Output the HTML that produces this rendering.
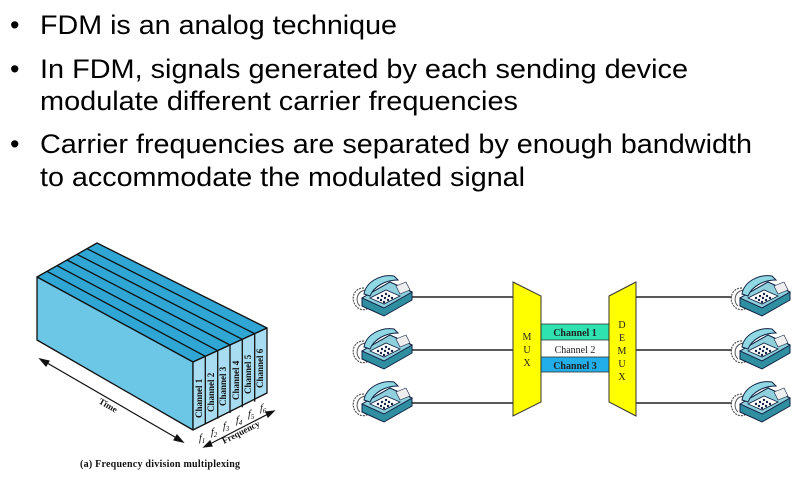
<!DOCTYPE html>
<html><head><meta charset="utf-8"><style>
html,body{margin:0;padding:0;background:#fff;width:801px;height:478px;overflow:hidden}
svg{position:absolute;left:0;top:0}
</style></head><body>
<svg width="801" height="478" viewBox="0 0 801 478" xmlns="http://www.w3.org/2000/svg">
<defs>
<g id="ph">
 <path d="M14 18 C2 18 0 32 8 38 C14 42 20 38 22 34" fill="none" stroke="#555" stroke-width="1.2" stroke-dasharray="2,1"/>
 <path d="M16 20 C6 21 5 32 10 36" fill="none" stroke="#555" stroke-width="1"/>
 <polygon points="12,28 40,12 62,22 62,30 34,46 12,36" fill="#2f8fa0" stroke="#124" stroke-width="1"/>
 <polygon points="12,28 40,12 62,22 34,38" fill="#8fd0dc" stroke="#124" stroke-width="1"/>
 <polygon points="20,28 36,20 50,26 34,34" fill="#fff" stroke="#124" stroke-width="0.8"/>
 <g fill="#124"><circle cx="28" cy="28" r="1.2"/><circle cx="32" cy="26" r="1.2"/><circle cx="36" cy="24" r="1.2"/><circle cx="31" cy="30" r="1.2"/><circle cx="35" cy="28" r="1.2"/><circle cx="39" cy="26" r="1.2"/><circle cx="34" cy="32" r="1.2"/><circle cx="38" cy="30" r="1.2"/><circle cx="42" cy="28" r="1.2"/></g>
 <path d="M14 24 C16 12 30 4 44 6 L48 10 C36 10 24 16 20 26 Z" fill="#8fd8e4" stroke="#124" stroke-width="1"/>
 <polygon points="46,16 56,12 60,20 50,24" fill="#eee" stroke="#124" stroke-width="0.6"/>
</g>
</defs>
<g font-family="Liberation Sans, sans-serif" font-size="27" fill="#000">
<text x="10" y="34">•</text><text x="40" y="34" textLength="357" lengthAdjust="spacingAndGlyphs">FDM is an analog technique</text>
<text x="10" y="78">•</text><text x="40" y="78" textLength="648" lengthAdjust="spacingAndGlyphs">In FDM, signals generated by each sending device</text>
<text x="40" y="110" textLength="478" lengthAdjust="spacingAndGlyphs">modulate different carrier frequencies</text>
<text x="10" y="153">•</text><text x="40" y="153" textLength="712" lengthAdjust="spacingAndGlyphs">Carrier frequencies are separated by enough bandwidth</text>
<text x="40" y="186" textLength="485" lengthAdjust="spacingAndGlyphs">to accommodate the modulated signal</text>
</g>
<!-- box -->
<g stroke="#111" stroke-width="1.3" stroke-linejoin="round">
<polygon points="37,277 97,243 267,328 193,362" fill="#2fa6d4"/>
<polygon points="37,277 193,362 193,430 37,340" fill="#6cc7e6"/>
<polygon points="193,362 267,328 267,393 193,430" fill="#a8dcf0"/>
<line x1="47" y1="271.3" x2="205.3" y2="356.3"/>
<line x1="57" y1="265.7" x2="217.7" y2="350.7"/>
<line x1="67" y1="260" x2="230" y2="345"/>
<line x1="77" y1="254.3" x2="242.3" y2="339.3"/>
<line x1="87" y1="248.7" x2="254.7" y2="333.7"/>
<line x1="205.3" y1="356.3" x2="205.3" y2="424.3"/>
<line x1="217.7" y1="350.7" x2="217.7" y2="418.7"/>
<line x1="230" y1="345" x2="230" y2="413"/>
<line x1="242.3" y1="339.3" x2="242.3" y2="407.3"/>
<line x1="254.7" y1="333.7" x2="254.7" y2="401.7"/>
</g>
<g font-family="Liberation Serif, serif" font-size="9" font-weight="bold" fill="#111">
<text transform="translate(202,418) rotate(-90)">Channel 1</text>
<text transform="translate(214,412) rotate(-90)">Channel 2</text>
<text transform="translate(226,406) rotate(-90)">Channel 3</text>
<text transform="translate(239,400) rotate(-90)">Channel 4</text>
<text transform="translate(251,394) rotate(-90)">Channel 5</text>
<text transform="translate(263,388) rotate(-90)">Channel 6</text>
</g>
<g font-family="Liberation Serif, serif" font-style="italic" font-size="10" fill="#111">
<text x="199" y="441">f<tspan font-size="7" dy="2">1</tspan></text>
<text x="211" y="435">f<tspan font-size="7" dy="2">2</tspan></text>
<text x="223" y="429">f<tspan font-size="7" dy="2">3</tspan></text>
<text x="236" y="423">f<tspan font-size="7" dy="2">4</tspan></text>
<text x="248" y="417">f<tspan font-size="7" dy="2">5</tspan></text>
<text x="260" y="411">f<tspan font-size="7" dy="2">6</tspan></text>
</g>
<g stroke="#111" stroke-width="1.2" fill="#111">
<line x1="42" y1="360" x2="180" y2="440"/>
<polygon points="40,359 49,361 46,366"/><polygon points="183,442 174,440 177,435"/>
<line x1="206" y1="446" x2="272" y2="412"/>
<polygon points="204,447 210,441 212,446"/><polygon points="274,411 268,417 266,412"/>
</g>
<text transform="translate(98,403) rotate(30)" font-family="Liberation Serif, serif" font-size="9" font-weight="bold" fill="#111">Time</text>
<text transform="translate(224,444) rotate(-27)" font-family="Liberation Serif, serif" font-size="9" font-weight="bold" fill="#111">Frequency</text>
<text x="80" y="467" font-family="Liberation Serif, serif" font-size="10" font-weight="bold" fill="#111" textLength="160">(a) Frequency division multiplexing</text>
<!-- right diagram -->
<g stroke="#222" stroke-width="1.5">
<line x1="410" y1="297" x2="513" y2="297"/><line x1="410" y1="350" x2="513" y2="350"/><line x1="410" y1="403" x2="513" y2="403"/>
<line x1="636" y1="297" x2="732" y2="297"/><line x1="636" y1="350" x2="732" y2="350"/><line x1="636" y1="403" x2="732" y2="403"/>
</g>
<rect x="541" y="324" width="68" height="16" fill="#2ee3b0" stroke="#333" stroke-width="0.8"/>
<rect x="541" y="357" width="68" height="15" fill="#22aee8" stroke="#333" stroke-width="0.8"/>
<polygon points="513,282 541,296 541,402 513,416" fill="#ffff00" stroke="#333" stroke-width="1"/>
<polygon points="609,296 636,282 636,416 609,402" fill="#ffff00" stroke="#333" stroke-width="1"/>
<g font-family="Liberation Serif, serif" font-size="10" fill="#222" text-anchor="middle">
<text x="575" y="336" font-weight="bold">Channel 1</text>
<text x="575" y="353">Channel 2</text>
<text x="575" y="369" font-weight="bold">Channel 3</text>
<text x="527" y="340">M</text><text x="527" y="353">U</text><text x="527" y="366">X</text>
<text x="622" y="328">D</text><text x="622" y="341">E</text><text x="622" y="354">M</text><text x="622" y="367">U</text><text x="622" y="380">X</text>
</g>
<use href="#ph" x="350" y="270"/><use href="#ph" x="350" y="323"/><use href="#ph" x="350" y="376"/>
<use href="#ph" x="728" y="270"/><use href="#ph" x="728" y="323"/><use href="#ph" x="728" y="376"/>
</svg>
</body></html>
